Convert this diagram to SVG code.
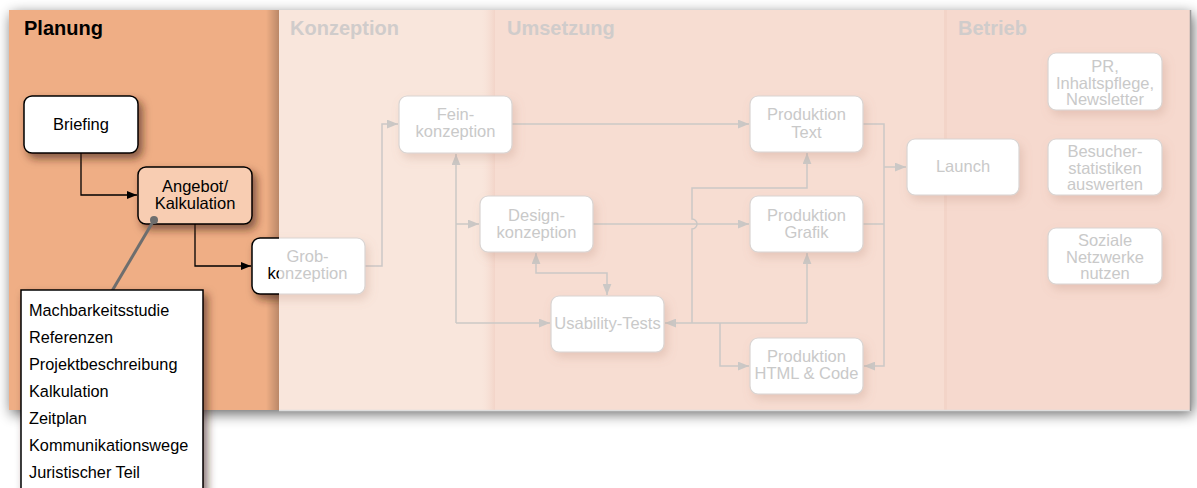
<svg xmlns="http://www.w3.org/2000/svg" width="1197" height="488" viewBox="0 0 1197 488">
<defs>
<style>
.t{font-family:"Liberation Sans",Arial,sans-serif;font-size:16.5px;text-anchor:middle}
.tl{font-family:"Liberation Sans",Arial,sans-serif;font-size:16.3px}
.h{font-family:"Liberation Sans",Arial,sans-serif;font-size:20px;font-weight:bold}
.dark{fill:#000}
.fade{fill:#c9c9c9}
.hf{fill:#d0cccb}
.nb{fill:#fff;stroke:#000;stroke-width:1.5}
.nf{fill:#fff;stroke:#d9d4d2;stroke-width:1.2}
.cb{fill:none;stroke:#000;stroke-width:1.3}
.cf{fill:none;stroke:#cbc8c6;stroke-width:1.5}
</style>
<marker id="ab" viewBox="0 0 10 8" refX="10" refY="4" markerWidth="10" markerHeight="8" markerUnits="userSpaceOnUse" orient="auto-start-reverse"><path d="M0,0L10,4L0,8z" fill="#000"/></marker>
<marker id="af" viewBox="0 0 10 8" refX="10" refY="4" markerWidth="11" markerHeight="9" markerUnits="userSpaceOnUse" orient="auto-start-reverse"><path d="M0,0L10,4L0,8z" fill="#cbc8c6"/></marker>
<filter id="ps" x="-5%" y="-10%" width="110%" height="125%"><feGaussianBlur in="SourceAlpha" stdDeviation="7" result="b1"/><feOffset in="b1" dx="2" dy="4" result="o1"/><feComponentTransfer in="o1" result="s1"><feFuncA type="linear" slope="0.6"/></feComponentTransfer><feMerge><feMergeNode in="s1"/><feMergeNode in="SourceGraphic"/></feMerge></filter>
<filter id="sb" x="-20%" y="-20%" width="150%" height="160%"><feDropShadow dx="4" dy="5" stdDeviation="4" flood-color="#3a1a08" flood-opacity="0.6"/></filter>
<filter id="sf" x="-20%" y="-20%" width="150%" height="160%"><feDropShadow dx="3" dy="5" stdDeviation="5" flood-color="#b08070" flood-opacity="0.25"/></filter>
<linearGradient id="gk" x1="0" x2="1" y1="0" y2="0"><stop offset="0" stop-color="#000" stop-opacity="0"/><stop offset="1" stop-color="#000" stop-opacity="0.22"/></linearGradient>
<linearGradient id="gu" x1="0" x2="1" y1="0" y2="0"><stop offset="0" stop-color="#f9e6dc" stop-opacity="0"/><stop offset="1" stop-color="#f2d2c6" stop-opacity="0.9"/></linearGradient>
<clipPath id="cl"><rect x="0" y="0" width="279" height="488"/></clipPath>
<clipPath id="cr"><rect x="279" y="0" width="918" height="488"/></clipPath>
</defs>
<rect width="1197" height="488" fill="#fff"/>
<g id="panel">
<rect x="9" y="10" width="1182" height="400" fill="#efae85" filter="url(#ps)"/>
<rect x="9" y="10" width="270" height="400" fill="#efae85"/>
<rect x="266" y="10" width="13" height="400" fill="url(#gk)"/>
<rect x="279" y="10" width="216" height="400" fill="#f9e6dc"/>
<rect x="495" y="10" width="452" height="400" fill="#f7ddd2"/>
<rect x="480" y="10" width="15" height="400" fill="url(#gu)"/>
<rect x="947" y="10" width="244" height="400" fill="#f6d9ce"/>
<rect x="944" y="10" width="3" height="400" fill="#f3d4c8"/>
<line x1="279" y1="410.5" x2="1191" y2="410.5" stroke="#dedede" stroke-width="1.5"/>
<line x1="1190.5" y1="10" x2="1190.5" y2="411" stroke="#9a9a9a" stroke-width="1.5"/>
<text class="h dark" x="24" y="35">Planung</text>
<text class="h hf" x="290" y="35">Konzeption</text>
<text class="h hf" x="507" y="35">Umsetzung</text>
<text class="h hf" x="958" y="35">Betrieb</text>
</g>
<g id="connectors">
<path class="cb" d="M81,153V195H137" marker-end="url(#ab)"/>
<path class="cb" d="M195,224V266H251" marker-end="url(#ab)"/>
<path class="cf" d="M365,266H382V124H398" marker-end="url(#af)"/>
<path class="cf" d="M512,124H749" marker-end="url(#af)"/>
<path class="cf" d="M456,323V154" marker-end="url(#af)"/>
<path class="cf" d="M456,323H550" marker-end="url(#af)"/>
<path class="cf" d="M456,224H479" marker-end="url(#af)"/>
<path class="cf" d="M536,253V273H607V295" marker-start="url(#af)" marker-end="url(#af)"/>
<path class="cf" d="M593,224H749" marker-end="url(#af)"/>
<path class="cf" d="M692,323V229A5,5 0 0 0 692,219V188H807V153" marker-end="url(#af)"/>
<path class="cf" d="M807,323H665" marker-end="url(#af)"/>
<path class="cf" d="M807,323V253" marker-end="url(#af)"/>
<path class="cf" d="M720,323V366H749" marker-end="url(#af)"/>
<path class="cf" d="M863,124H884V366H864" marker-end="url(#af)"/>
<path class="cf" d="M863,224H884"/>
<path class="cf" d="M884,167H906" marker-end="url(#af)"/>
</g>
<g id="briefing">
<rect class="nb" x="24" y="96" width="114" height="57" rx="8" filter="url(#sb)"/>
<text class="t dark" x="81" y="130">Briefing</text>
</g>
<g id="angebot">
<rect x="138" y="167" width="114" height="57" rx="8" fill="#f8cdb2" stroke="#000" stroke-width="1.5" filter="url(#sb)"/>
<text class="t dark" x="195" y="192">Angebot/</text>
<text class="t dark" x="195" y="209">Kalkulation</text>
</g>
<g id="grob">
<g clip-path="url(#cl)">
<rect class="nb" x="252" y="238" width="113" height="56" rx="8" filter="url(#sb)"/>
<text class="t dark" x="307.5" y="262">Grob-</text>
<text class="t dark" x="307.5" y="279">konzeption</text>
</g>
<g clip-path="url(#cr)">
<rect class="nf" x="252" y="238" width="113" height="56" rx="8" filter="url(#sf)"/>
<text class="t fade" x="307.5" y="262">Grob-</text>
<text class="t fade" x="307.5" y="279">konzeption</text>
</g>
</g>
<g id="fein">
<rect class="nf" x="399" y="96" width="113" height="57" rx="8" filter="url(#sf)"/>
<text class="t fade" x="455.5" y="120">Fein-</text>
<text class="t fade" x="455.5" y="137">konzeption</text>
</g>
<g id="design">
<rect class="nf" x="480" y="196" width="113" height="56" rx="8" filter="url(#sf)"/>
<text class="t fade" x="536.5" y="221">Design-</text>
<text class="t fade" x="536.5" y="238">konzeption</text>
</g>
<g id="usability">
<rect class="nf" x="551" y="296" width="113" height="56" rx="8" filter="url(#sf)"/>
<text class="t fade" x="607.5" y="329">Usability-Tests</text>
</g>
<g id="prodtext">
<rect class="nf" x="750" y="96" width="113" height="56" rx="8" filter="url(#sf)"/>
<text class="t fade" x="806.5" y="120">Produktion</text>
<text class="t fade" x="806.5" y="138">Text</text>
</g>
<g id="prodgrafik">
<rect class="nf" x="750" y="196" width="113" height="56" rx="8" filter="url(#sf)"/>
<text class="t fade" x="806.5" y="221">Produktion</text>
<text class="t fade" x="806.5" y="238">Grafik</text>
</g>
<g id="prodhtml">
<rect class="nf" x="750" y="338" width="113" height="56" rx="8" filter="url(#sf)"/>
<text class="t fade" x="806.5" y="362">Produktion</text>
<text class="t fade" x="806.5" y="379">HTML &amp; Code</text>
</g>
<g id="launch">
<rect class="nf" x="907" y="139" width="112" height="56" rx="8" filter="url(#sf)"/>
<text class="t fade" x="963" y="172">Launch</text>
</g>
<g id="pr">
<rect class="nf" x="1048" y="53" width="114" height="57" rx="8" filter="url(#sf)"/>
<text class="t fade" x="1105" y="72">PR,</text>
<text class="t fade" x="1105" y="88.5">Inhaltspflege,</text>
<text class="t fade" x="1105" y="105">Newsletter</text>
</g>
<g id="besucher">
<rect class="nf" x="1048" y="139" width="114" height="56" rx="8" filter="url(#sf)"/>
<text class="t fade" x="1105" y="157">Besucher-</text>
<text class="t fade" x="1105" y="173.5">statistiken</text>
<text class="t fade" x="1105" y="190">auswerten</text>
</g>
<g id="soziale">
<rect class="nf" x="1048" y="228" width="114" height="56" rx="8" filter="url(#sf)"/>
<text class="t fade" x="1105" y="246">Soziale</text>
<text class="t fade" x="1105" y="262.5">Netzwerke</text>
<text class="t fade" x="1105" y="279">nutzen</text>
</g>
<g id="callout">
<line x1="154" y1="220" x2="112" y2="291" stroke="#6e6e6e" stroke-width="3"/>
<circle cx="154" cy="220" r="4" fill="#6e6e6e"/>
<rect class="nb" x="21" y="290" width="182" height="210" filter="url(#sb)"/>
<text class="tl dark" x="29" y="316">Machbarkeitsstudie</text>
<text class="tl dark" x="29" y="343">Referenzen</text>
<text class="tl dark" x="29" y="370">Projektbeschreibung</text>
<text class="tl dark" x="29" y="397">Kalkulation</text>
<text class="tl dark" x="29" y="424">Zeitplan</text>
<text class="tl dark" x="29" y="451">Kommunikationswege</text>
<text class="tl dark" x="29" y="478">Juristischer Teil</text>
</g>
</svg>
